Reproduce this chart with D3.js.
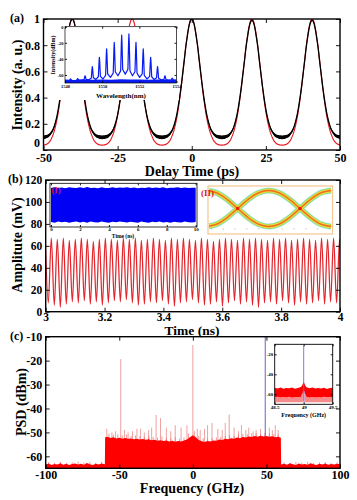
<!DOCTYPE html>
<html><head><meta charset="utf-8">
<script src="https://cdn.jsdelivr.net/npm/d3@7"></script>
<style>
body{margin:0;background:#fff}
svg{display:block}
text{font-family:"Liberation Serif","Times New Roman",serif;font-weight:bold;fill:#000}
</style></head>
<body><svg id="fig" width="357" height="500"></svg>
<script>
// ================= DATA =================
// ---- Panel (a): autocorrelation trace
const aDelayTicks = [-50, -25, 0, 25, 50];
const aIntensityTicks = [0, 0.2, 0.4, 0.6, 0.8, 1];
const pulseCenters = [-40.3, -20.1, 0, 20.3, 40.6];          // ps
const pulseOffsets = [0,0.5,1,1.5,2,2.5,3,3.5,4,4.5,5,5.5,6,6.5,7,7.5,8,8.5,9,9.5,10];
const redFit      = [1.000,0.985,0.94,0.87,0.79,0.69,0.59,0.49,0.40,0.32,0.25,0.195,0.15,0.115,0.088,0.068,0.055,0.046,0.041,0.038,0.037];
const blackMean   = [1.000,0.985,0.94,0.87,0.79,0.69,0.595,0.50,0.415,0.34,0.275,0.225,0.185,0.155,0.135,0.12,0.11,0.104,0.10,0.098,0.097];
const blackSpread = [0.002,0.002,0.003,0.003,0.004,0.004,0.005,0.005,0.006,0.006,0.007,0.008,0.009,0.010,0.011,0.012,0.013,0.013,0.014,0.014,0.014];
const blackPeak   = [1.0, 0.92, 1.0, 0.99, 0.99];
// ---- Panel (a) inset: optical spectrum
const specTicksX = [1548, 1550, 1552, 1554];
const specTicksY = [0, -20, -40, -60];
const specPeakWl = [1548.30,1548.68,1549.08,1549.47,1549.85,1550.24,1550.65,1551.05,1551.44,1551.82,1552.21,1552.61,1552.98,1553.38,1553.77];
const specPeakDb = [-65,-64.5,-61,-49.5,-38,-27.5,-19.5,-10.5,-9,-19.5,-27.5,-38,-49.5,-61,-64];
const specValleyDb = [-67,-66.5,-66,-65.5,-65,-63,-61,-59,-61,-63,-65,-65.5,-66,-66.5];
const specFloorWl  = [1548.0,1548.5,1549.0,1549.5,1550.0,1550.5,1551.0,1551.5,1552.0,1552.5,1553.0,1553.5,1554.0];
const specFloorTop = [-65.8,-66.2,-65.6,-66.0,-65.5,-65.9,-65.4,-65.8,-65.5,-66.1,-65.7,-66.0,-65.8];
// ---- Panel (b): RF waveform
const bTimeTicks = [3, 3.2, 3.4, 3.6, 3.8, 4];
const bAmpTicks = [0, 20, 40, 60, 80, 100, 120];
const waveFreqGHz = 49;
const waveFirstPeakNs = 2.9986;
const wavePeaks   = [66,67,66,67,65,66,67,66,64,66, 67,66,65,67,66,67,65,66,67,66, 65,67,66,67,66,65,67,66,64,66, 67,66,65,67,66,67,66,65,67,66, 67,65,66,67,66,65,67,66,67,66, 65];
const waveTroughs = [8,6,4,7,9,8,10,7,9,6, 8,10,9,11,8,6,7,9,8,10, 7,5,8,9,11,8,6,7,9,5, 8,10,7,9,6,4,8,9,7,10, 8,6,9,7,8,10,7,9,8,6, 9];
// ---- Panel (b) inset (I): long time record envelope
const iTimeTicks = [0, 2, 4, 6, 8, 10];
const iEnvTime   = [0,0.25,0.5,0.75,1,1.25,1.5,1.75,2,2.25,2.5,2.75,3,3.25,3.5,3.75,4,4.25,4.5,4.75,5,5.25,5.5,5.75,6,6.25,6.5,6.75,7,7.25,7.5,7.75,8,8.25,8.5,8.75,9,9.25,9.5,9.75,10];
const iEnvTop    = [112.8,113.4,112.6,113.1,112.5,113.5,112.9,112.6,113.3,112.7,113.6,112.6,113.0,112.5,113.3,112.8,112.6,113.5,112.7,113.1,112.9,113.4,112.6,113.2,112.5,113.0,112.8,113.5,112.6,113.1,112.7,113.3,112.5,113.0,112.9,113.4,112.6,113.2,112.8,113.0,112.9];
const iEnvBottom = [81.8,81.1,82.2,81.5,82.0,81.0,81.7,82.3,81.3,81.9,81.0,82.1,81.5,81.2,82.2,81.6,81.0,82.0,81.4,82.1,81.7,81.2,82.0,81.5,81.1,82.2,81.6,81.0,81.9,81.4,82.1,81.3,81.8,81.1,82.0,81.5,81.2,82.1,81.6,81.3,81.8];
// ---- Panel (b) inset (II): eye diagram (two traces, one bit period between crossings)
const eyePhase = [-1.3,7.1,15.5,23.9,32.3,40.6,49,57.4,65.8,74.2,82.6,90.9,99.3];
const eyeLevel = [-1,-0.866,-0.5,0,0.5,0.866,1,0.866,0.5,0,-0.5,-0.866,-1];
// ---- Panel (c): PSD
const cFreqTicks = [-100, -50, 0, 50, 100];
const cPsdTicks = [-10, -20, -30, -40, -50, -60];
const psdFreq = [-100,-98,-96,-94,-92,-90,-88,-86,-84,-82,-80,-78,-76,-74,-72,-70,-68,-66,-64,-62,-59.8,
  -59.6,-58,-56,-54,-52,-50,-48,-46,-44,-42,-40,-38,-36,-34,-32,-30,-28,-26,-24,-22,-20,-18,-16,-14,-12,-10,-8,-6,-4,-2,0,
  2,4,6,8,10,12,14,16,18,20,22,24,26,28,30,32,34,36,38,40,42,44,46,48,50,52,54,56,58,59.8,
  60,62,64,66,68,70,72,74,76,78,80,82,84,86,88,90,92,94,96,98,100];
const psdTop = [-63.5,-63,-63.6,-63.2,-63.4,-62.9,-63.5,-63.1,-63.6,-63.2,-63,-63.4,-63.1,-63.5,-62.8,-63.3,-63.6,-63.1,-63.4,-63.0,-63.3,
  -52.0,-51.8,-52.3,-52.0,-52.5,-52.2,-52.6,-52.3,-52.7,-52.5,-52.9,-52.6,-53.0,-52.8,-53.1,-52.9,-53.3,-53.1,-53.5,-53.3,-53.6,-53.4,-53.8,-53.5,-53.9,-53.6,-53.8,-53.4,-53.0,-52.0,-51.2,
  -52.0,-53.2,-53.7,-54.0,-53.6,-53.8,-53.4,-53.5,-53.0,-53.2,-52.7,-52.9,-52.4,-52.6,-52.1,-52.4,-51.9,-52.1,-51.7,-51.9,-51.5,-51.8,-51.4,-51.7,-51.5,-51.8,-51.6,-52.0,-51.8,-52.2,
  -63.4,-63.1,-63.5,-62.9,-63.3,-63.6,-63.0,-63.4,-63.2,-63.5,-62.9,-63.3,-63.6,-63.1,-63.4,-63.0,-63.5,-63.2,-63.4,-63.1,-63.3];
const psdSpikeFreq = [-58.5,-55,-52.5,-49,-46.5,-44,-41,-38,-35.5,-33,-30,-28,-25,-22,-18,-15,-12,-8,-4,0,3,5,8,10,13,17,20,22,24.7,28,31,33,36,38,41,43,46,52,54,56,58];
const psdSpikeTop  = [-48.5,-50,-49.5,-19.4,-49,-50,-49.5,-48.5,-48.5,-50,-49,-48,-42.7,-44,-48,-49.5,-47,-48,-47,-13.5,-48.5,-49,-48.5,-47,-46,-48.5,-49,-46,-42.5,-48,-49.5,-47,-49,-48,-49.5,-49,-48.5,-48,-49,-47,-49];
const psdCombFreq = [-57,-54,-51,-48,-45,-42,-39,-36,-33,-30,-27,-24,-21,-18,-15,-12,-9,-6,-3,1,4,7,10,13,16,19,22,25,28,31,34,37,40,43,46,49,52,55,58];
const psdCombTop  = [-50.5,-51,-50.8,-51.2,-50.9,-51.5,-51.3,-51.6,-51.8,-51.4,-51.9,-52.2,-51.7,-52.3,-52.5,-52,-52.6,-52.1,-50.5,-49.5,-51.5,-52.4,-52.6,-52.3,-52.1,-51.8,-51.5,-51.2,-51.4,-50.9,-50.6,-50.8,-50.4,-50.3,-50.6,-50.2,-50.5,-50.7,-50.9];
const psdFloorCombFreq = [-98,-94,-90,-86,-82,-78,-74,-70,-66,-62,62,66,70,74,78,82,86,90,94,98];
const psdFloorCombTop  = [-62.4,-62.7,-62.3,-62.8,-62.5,-62.2,-62.6,-62.4,-62.7,-62.3,-62.5,-62.8,-62.4,-62.6,-62.3,-62.7,-62.5,-62.4,-62.8,-62.5];
const toneFreq = 49.2, toneTop = -10;
// ---- Panel (c) inset: zoom around 49 GHz
const zTicksX = [48.5, 49, 49.5];
const zTicksY = [-20, -40, -60];
const zFreq = [48.5,48.55,48.6,48.65,48.7,48.75,48.8,48.85,48.9,48.95,48.97,49.0,49.03,49.05,49.1,49.15,49.2,49.25,49.3,49.35,49.4,49.45,49.5];
const zTop  = [-53.5,-54.2,-53.1,-54.5,-53.8,-54.0,-53.3,-54.4,-53.6,-52.8,-51.5,-47.5,-51.5,-52.9,-53.9,-53.2,-54.3,-53.7,-54.1,-53.4,-54.6,-53.8,-53.5];
const zSolidBottom = [-63.0,-62.4,-63.3,-62.7,-63.1,-62.5,-63.4,-62.8,-63.0,-62.6,-60,-58,-60,-62.7,-63.2,-62.6,-63.1,-62.9,-63.3,-62.5,-63.0,-62.7,-63.1];
const zPaleBottom = -68;
const zToneTop = -11, zToneBottom = -67;

// ================= DRAWING =================
const svg = d3.select('#fig');
const FONT = '"Liberation Serif","Times New Roman",serif';

function styleAxis(sel, size) {
  sel.attr('font-family', FONT).attr('font-size', size).attr('font-weight', 'bold');
  sel.select('.domain').remove();
  sel.selectAll('line').attr('stroke', '#000').attr('stroke-width', 0.9);
  sel.selectAll('text').attr('fill', '#000');
}
function boxAxes(g, x, y, xt, yt, o) {
  const [xa, xb] = x.range(), [yb, ya] = y.range();
  const fmt = d => String(d);
  g.append('g').attr('transform', `translate(0,${yb})`)
    .call(d3.axisBottom(x).tickValues(xt).tickSizeInner(-o.tick).tickSizeOuter(0).tickPadding(o.padX).tickFormat(fmt))
    .call(s => styleAxis(s, o.fs));
  g.append('g').attr('transform', `translate(0,${ya})`)
    .call(d3.axisTop(x).tickValues(xt).tickSizeInner(-o.tick).tickSizeOuter(0).tickFormat(() => ''))
    .call(s => styleAxis(s, o.fs));
  const left = g.append('g').attr('transform', `translate(${xa},0)`)
    .call(d3.axisLeft(y).tickValues(yt).tickSizeInner(-o.tick).tickSizeOuter(0).tickPadding(o.padY).tickFormat(fmt))
    .call(s => styleAxis(s, o.fs));
  if (o.lift0) left.selectAll('.tick text').filter(d => d === y.domain()[0]).attr('dy', o.lift0);
  g.append('g').attr('transform', `translate(${xb},0)`)
    .call(d3.axisRight(y).tickValues(yt).tickSizeInner(-o.tick).tickSizeOuter(0).tickFormat(() => ''))
    .call(s => styleAxis(s, o.fs));
  g.append('rect').attr('x', xa).attr('y', ya).attr('width', xb - xa).attr('height', yb - ya)
    .attr('fill', 'none').attr('stroke', '#000').attr('stroke-width', o.frame);
}
function clip(id, x, y) {
  const [xa, xb] = x.range(), [yb, ya] = y.range();
  svg.append('clipPath').attr('id', id).append('rect')
    .attr('x', xa).attr('y', ya).attr('width', xb - xa).attr('height', yb - ya);
  return `url(#${id})`;
}
function label(txt, x, y, size, opts = {}) {
  const t = svg.append('text').attr('x', x).attr('y', y).attr('font-size', size).text(txt)
    .attr('text-anchor', opts.anchor || 'start');
  if (opts.rot) t.attr('transform', `rotate(-90,${x},${y})`);
  if (opts.fill) t.style('fill', opts.fill);
  return t;
}

// ---------- Panel (a)
const xA = d3.scaleLinear([-50, 50], [43.5, 340]);
const yA = d3.scaleLinear([0, 1], [150, 19]);
const gA = svg.append('g');
const cpA = clip('clipA', xA, yA);
const blackScale = (v, k) => blackMean[20] + (v - blackMean[20]) * (blackPeak[k] - blackMean[20]) / (1 - blackMean[20]);
function pulseRows(fn) {
  const pts = [];
  pulseCenters.forEach((c, k) => {
    for (let j = pulseOffsets.length - 1; j > 0; j--) pts.push(fn(c - pulseOffsets[j], j, k));
    for (let j = 0; j < pulseOffsets.length; j++) pts.push(fn(c + pulseOffsets[j], j, k));
  });
  return pts.sort((a, b) => a[0] - b[0]);
}
const redPts = pulseRows((x, j) => [x, redFit[j]]);
const blackBand = pulseRows((x, j, k) => [x, blackScale(blackMean[j], k), blackSpread[j]]);
const plotA = gA.append('g').attr('clip-path', cpA);
plotA.append('path').datum(redPts)
  .attr('d', d3.line().x(d => xA(d[0])).y(d => yA(d[1])).curve(d3.curveMonotoneX))
  .attr('fill', 'none').attr('stroke', '#e8141b').attr('stroke-width', 1.1);
plotA.append('path').datum(blackBand)
  .attr('d', d3.area().x(d => xA(d[0])).y0(d => yA(d[1] - d[2])).y1(d => yA(d[1] + d[2])).curve(d3.curveMonotoneX))
  .attr('fill', '#000');
plotA.append('path').datum(blackBand)
  .attr('d', d3.line().x(d => xA(d[0])).y(d => yA(d[1])).curve(d3.curveMonotoneX))
  .attr('fill', 'none').attr('stroke', '#000').attr('stroke-width', 1.3);
gA.append('rect').attr('x', 46).attr('y', 26).attr('width', 133).attr('height', 74).attr('fill', '#fff');
boxAxes(gA, xA, yA, aDelayTicks, aIntensityTicks, { tick: 4, padX: 3, padY: 3.5, fs: 12, frame: 1.4, lift0: '-0.3em' });

// inset (a)
const xI = d3.scaleLinear([1548, 1554], [65, 176.5]);
const yI = d3.scaleLinear([-70, 0], [83, 26.7]);
const gI = svg.append('g');
const cpI = clip('clipI', xI, yI);
const specPts = [[1548, -67]];
specPeakWl.forEach((w, i) => {
  const base = i === 0 ? specValleyDb[0] : specValleyDb[i - 1];
  const after = i < specValleyDb.length ? specValleyDb[i] : specValleyDb[specValleyDb.length - 1];
  const p = specPeakDb[i];
  specPts.push([w - 0.055, base + (p - base) * 0.12]);
  specPts.push([w - 0.018, p - (p - base) * 0.2]);
  specPts.push([w, p]);
  specPts.push([w + 0.018, p - (p - after) * 0.2]);
  specPts.push([w + 0.055, after + (p - after) * 0.12]);
  if (i < specPeakWl.length - 1) specPts.push([(w + specPeakWl[i + 1]) / 2, after]);
});
specPts.push([1554, -67]);
const plotI = gI.append('g').attr('clip-path', cpI);
plotI.append('path').datum(specFloorWl.map((w, i) => [w, specFloorTop[i]]))
  .attr('d', d3.area().x(d => xI(d[0])).y0(yI(-70)).y1(d => yI(d[1])))
  .attr('fill', '#0a1cf5');
plotI.append('path').datum(specPts)
  .attr('d', d3.line().x(d => xI(d[0])).y(d => yI(d[1])))
  .attr('fill', 'none').attr('stroke', '#0a1cf5').attr('stroke-width', 1.2).attr('stroke-linejoin', 'round');
boxAxes(gI, xI, yI, specTicksX, specTicksY, { tick: 2, padX: 1.5, padY: 1.5, fs: 4.5, frame: 0.7 });
label('Intensity(dBm)', 55, 55, 6, { rot: true, anchor: 'middle' });
label('Wavelength(nm)', 121, 97.5, 7, { anchor: 'middle' });

label('(a)', 10, 22, 12);
label('Intensity (a. u.)', 22, 85, 14, { rot: true, anchor: 'middle' });
label('Delay Time (ps)', 192, 176, 14, { anchor: 'middle' });

// ---------- Panel (b)
const xB = d3.scaleLinear([3, 4], [45.7, 340]);
const yB = d3.scaleLinear([0, 120], [311.7, 180]);
const gB = svg.append('g');
const cpB = clip('clipB', xB, yB);
const halfPeriod = 1 / waveFreqGHz / 2;
const wavePts = [];
wavePeaks.forEach((p, k) => {
  wavePts.push([waveFirstPeakNs + 2 * k * halfPeriod, p]);
  wavePts.push([waveFirstPeakNs + (2 * k + 1) * halfPeriod, waveTroughs[k]]);
});
const plotB = gB.append('g').attr('clip-path', cpB);
const waveLine = d3.line().x(d => xB(d[0])).y(d => yB(d[1])).curve(d3.curveMonotoneX);
plotB.append('path').datum(wavePts).attr('d', waveLine)
  .attr('fill', 'none').attr('stroke', '#e3242b').attr('stroke-width', 1.25);
boxAxes(gB, xB, yB, bTimeTicks, bAmpTicks, { tick: 4, padX: 1, padY: 3.5, fs: 11.5, frame: 1.4 });

// inset (I)
const xIi = d3.scaleLinear([0, 10], [51, 195.7]);
const gIi = svg.append('g');
gIi.append('rect').attr('x', 50).attr('y', 183.3).attr('width', 147).attr('height', 43.7)
  .attr('fill', '#fff').attr('stroke', '#000').attr('stroke-width', 0.8);
gIi.append('path').datum(iEnvTime.map((t, i) => [t, iEnvTop[i], iEnvBottom[i]]))
  .attr('d', d3.area().x(d => xIi(d[0])).y0(d => yB(d[2])).y1(d => yB(d[1])))
  .attr('fill', '#0000f5');
gIi.append('g').attr('transform', 'translate(0,227)')
  .call(d3.axisBottom(xIi).tickValues(iTimeTicks).tickSizeInner(-2).tickSizeOuter(0).tickPadding(0.8).tickFormat(d => String(d)))
  .call(s => styleAxis(s, 5));
gIi.append('g').attr('transform', 'translate(0,183.3)')
  .call(d3.axisTop(xIi).tickValues(iTimeTicks).tickSizeInner(-2).tickSizeOuter(0).tickFormat(() => ''))
  .call(s => styleAxis(s, 5));
label('Time (ns)', 123, 237.5, 5.5, { anchor: 'middle' });
label('(I)', 51.5, 193, 8.5, { fill: '#e0141e' });

// inset (II) eye diagram
const xE = d3.scaleLinear([0, 100], [208, 332]);
const yE = d3.scaleLinear([-1, 1], [226.5, 190.5]);
const gE = svg.append('g');
gE.append('rect').attr('x', 208).attr('y', 186).attr('width', 124.5).attr('height', 48)
  .attr('fill', '#fff').attr('stroke', '#f4c58e').attr('stroke-width', 1.2);
const cpE = clip('clipE', d3.scaleLinear([0, 1], [209, 331.5]), d3.scaleLinear([0, 1], [233, 187]));
const eyeLine = d3.line().x(d => xE(d[0])).y(d => yE(d[1])).curve(d3.curveCatmullRom);
const eyeA = eyePhase.map((p, i) => [p, eyeLevel[i]]);
const eyeB = eyePhase.map((p, i) => [p, -eyeLevel[i]]);
const eyeLayers = [['#a6e8e2', 6.2], ['#8fd86a', 4.8], ['#eee23a', 3.4], ['#f49a2c', 1.9], ['#e8401a', 0.6]];
const gEp = gE.append('g').attr('clip-path', cpE);
eyeLayers.forEach(([col, w]) => {
  [eyeA, eyeB].forEach(tr => gEp.append('path').datum(tr).attr('d', eyeLine)
    .attr('fill', 'none').attr('stroke', col).attr('stroke-width', w));
});
[23.9, 74.2].forEach(p => gE.append('circle').attr('cx', xE(p)).attr('cy', yE(0)).attr('r', 1.8).attr('fill', '#e8200e'));
gE.append('g').attr('transform', 'translate(0,229.5)')
  .call(d3.axisBottom(d3.scaleLinear([0, 10], [211, 329])).ticks(10).tickSizeInner(-1.5).tickSizeOuter(0).tickFormat(() => ''))
  .call(s => { styleAxis(s, 3); s.selectAll('line').attr('stroke', '#999').attr('stroke-width', 0.5); });
label('(II)', 201, 195.5, 9, { fill: '#e0141e' });

label('(b)', 8, 183, 12);
label('Amplitute (mV)', 22, 245, 14, { rot: true, anchor: 'middle' });
label('Time (ns)', 192, 335, 13.5, { anchor: 'middle' });

// ---------- Panel (c)
const xC = d3.scaleLinear([-100, 100], [45.7, 340]);
const yC = d3.scaleLinear([-65, -10], [468.3, 336.7]);
const gC = svg.append('g');
const cpC = clip('clipC', xC, yC);
const plotC = gC.append('g').attr('clip-path', cpC);
psdSpikeFreq.forEach((f, i) => plotC.append('line')
  .attr('x1', xC(f)).attr('x2', xC(f)).attr('y1', yC(-55)).attr('y2', yC(psdSpikeTop[i]))
  .attr('stroke', '#f0a0a0').attr('stroke-width', 1));
psdCombFreq.forEach((f, i) => plotC.append('line')
  .attr('x1', xC(f)).attr('x2', xC(f)).attr('y1', yC(-56)).attr('y2', yC(psdCombTop[i]))
  .attr('stroke', '#f26a6a').attr('stroke-width', 0.7));
psdFloorCombFreq.forEach((f, i) => plotC.append('line')
  .attr('x1', xC(f)).attr('x2', xC(f)).attr('y1', yC(-64)).attr('y2', yC(psdFloorCombTop[i]))
  .attr('stroke', '#f26a6a').attr('stroke-width', 0.7));
plotC.append('path').datum(psdFreq.map((f, i) => [f, psdTop[i]]))
  .attr('d', d3.area().x(d => xC(d[0])).y0(yC(-65)).y1(d => yC(d[1])))
  .attr('fill', '#ff0000');
plotC.append('line').attr('x1', xC(toneFreq)).attr('x2', xC(toneFreq))
  .attr('y1', yC(toneTop)).attr('y2', yC(-52)).attr('stroke', '#5a4fd0').attr('stroke-width', 0.9);
boxAxes(gC, xC, yC, cFreqTicks, cPsdTicks, { tick: 4, padX: 2.5, padY: 3.5, fs: 12, frame: 1.4 });

// inset (c)
const xZ = d3.scaleLinear([48.5, 49.5], [274.7, 332.7]);
const yZ = d3.scaleLinear([-70, -10], [404.3, 344.3]);
const gZ = svg.append('g');
gZ.append('rect').attr('x', 274.7).attr('y', 344.3).attr('width', 58).attr('height', 60).attr('fill', '#fff');
const cpZ = clip('clipZ', xZ, yZ);
const plotZ = gZ.append('g').attr('clip-path', cpZ);
plotZ.append('path').datum(zFreq.map((f, i) => [f, zSolidBottom[i]]))
  .attr('d', d3.area().x(d => xZ(d[0])).y0(yZ(zPaleBottom)).y1(d => yZ(d[1])))
  .attr('fill', '#f58a8a');
plotZ.append('path').datum(zFreq.map((f, i) => [f, zTop[i], zSolidBottom[i]]))
  .attr('d', d3.area().x(d => xZ(d[0])).y0(d => yZ(d[2])).y1(d => yZ(d[1])))
  .attr('fill', '#ff0000');
plotZ.append('rect').attr('x', xZ(48.985)).attr('width', xZ(49.015) - xZ(48.985))
  .attr('y', yZ(-57)).attr('height', yZ(-69) - yZ(-57)).attr('fill', '#d9d2f2');
plotZ.append('line').attr('x1', xZ(49)).attr('x2', xZ(49)).attr('y1', yZ(zToneTop)).attr('y2', yZ(zToneBottom))
  .attr('stroke', '#6f6ae0').attr('stroke-width', 0.9);
boxAxes(gZ, xZ, yZ, zTicksX, zTicksY, { tick: 2, padX: 1.5, padY: 1.5, fs: 5, frame: 0.9 });
label('Frequency (GHz)', 303.7, 416.5, 6, { anchor: 'middle' });

label('(c)', 10, 340, 12);
label('PSD (dBm)', 26, 402, 14, { rot: true, anchor: 'middle' });
label('Frequency (GHz)', 192, 493, 14, { anchor: 'middle' });
</script>
</body></html>
